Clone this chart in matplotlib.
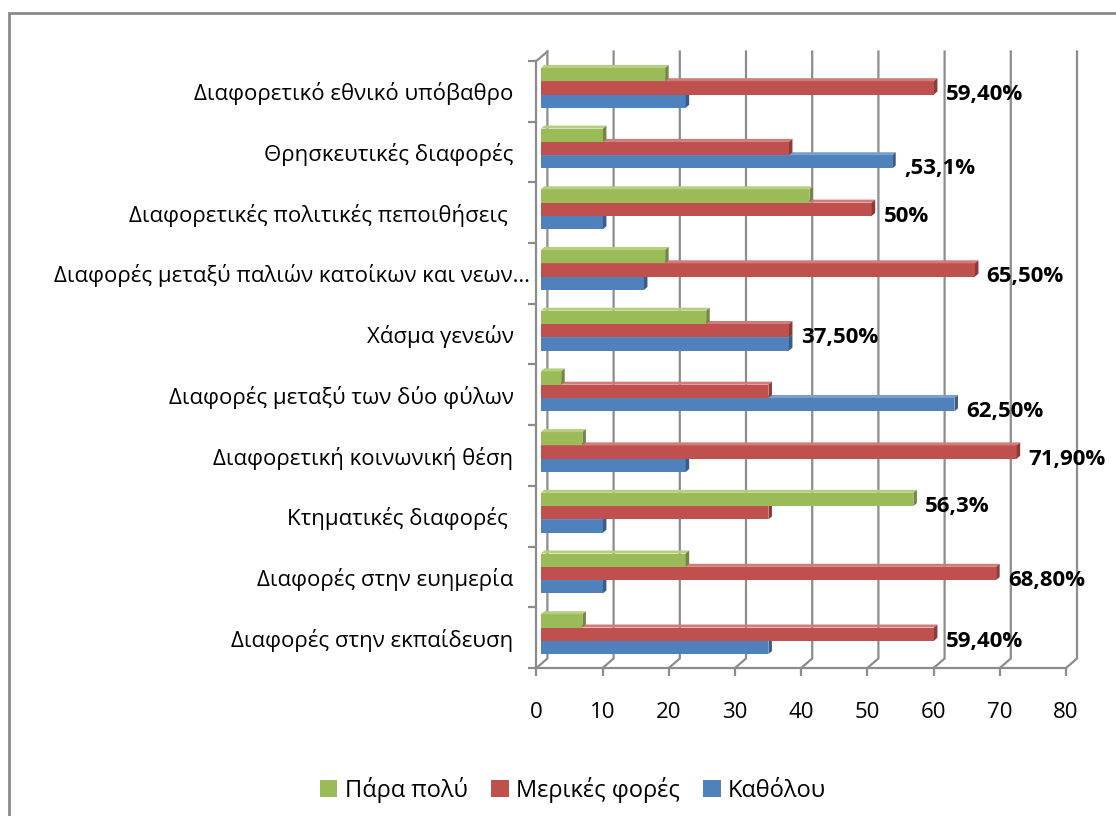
import matplotlib
matplotlib.use('Agg')
import matplotlib.pyplot as plt
from matplotlib.patches import Polygon, Patch, Rectangle
from matplotlib.transforms import ScaledTranslation
import numpy as np

plt.rcParams['font.family'] = ['Open Sans', 'DejaVu Sans']

# Categories, bottom to top (as barh draws them)
categories = [
    'Διαφορές στην εκπαίδευση',
    'Διαφορές στην ευημερία',
    'Κτηματικές διαφορές ',
    'Διαφορετική κοινωνική θέση',
    'Διαφορές μεταξύ των δύο φύλων',
    'Χάσμα γενεών',
    'Διαφορές μεταξύ παλιών κατοίκων και νεων…',
    'Διαφορετικές πολιτικές πεποιθήσεις ',
    'Θρησκευτικές διαφορές',
    'Διαφορετικό εθνικό υπόβαθρο',
]
para_poly = [6.3, 21.9, 56.3, 6.3, 3.1, 25.0, 18.8, 40.6, 9.4, 18.8]
merikes_fores = [59.4, 68.8, 34.4, 71.9, 34.4, 37.5, 65.6, 50.0, 37.5, 59.4]
katholou = [34.4, 9.4, 9.4, 21.9, 62.5, 37.5, 15.6, 9.4, 53.1, 21.9]
series_names = ['Πάρα πολύ', 'Μερικές φορές', 'Καθόλου']

# Data labels as typed in the original chart, and which series they sit on
value_labels = ['59,40%', '68,80%', '56,3%', '71,90%', '62,50%',
                '37,50%', '65,50%', '50%', ',53,1%', '59,40%']
label_series = [1, 1, 0, 1, 2, 1, 1, 1, 2, 1]
xticks = [0, 10, 20, 30, 40, 50, 60, 70, 80]

# colours: front, top face, side face
front_cols = ['#9BBB59', '#C0504D', '#4F81BD']
top_cols = ['#B5CF80', '#D27B78', '#7C9FCE']
side_cols = ['#71893F', '#8E3A38', '#385D8A']
grid_col = '#8C8C8C'


def create_chart():
    W, H = 1116, 816
    fig = plt.figure(figsize=(W / 100, H / 100), dpi=100)

    # outer chart border (runs off the right and bottom edges)
    fig.patches.append(Rectangle((9 / W, -0.05), 1.2, 1 - 13 / H + 0.05,
                                 transform=fig.transFigure, fill=False,
                                 edgecolor='#8A8A8A', linewidth=2.0))

    # front plane of the 3D plot area, in pixels
    x0_px, x1_px, ytop_px, ybot_px = 536.4, 1066.0, 61.0, 668.0
    ax = fig.add_axes([x0_px / W, 1 - ybot_px / H,
                       (x1_px - x0_px) / W, (ybot_px - ytop_px) / H])
    n = len(categories)
    ax.set_xlim(0, 80)
    ax.set_ylim(-0.5, n - 0.5)
    px_x = (x1_px - x0_px) / 80.0
    px_y = (ybot_px - ytop_px) / n

    # back wall offset and bar offsets (pixels -> data units)
    bx, by = 11 / px_x, 9.5 / px_y
    ox, oy = 4.3 / px_x, 3.5 / px_y
    ddx, ddy = 3.5 / px_x, 3.0 / px_y
    bh = 13.3 / px_y

    # wall gridlines and floor diagonals
    for k in xticks:
        ax.plot([k, k + bx, k + bx], [-0.5, -0.5 + by, n - 0.5 + by],
                color=grid_col, lw=1.6, clip_on=False, zorder=1,
                solid_joinstyle='miter')
    ax.plot([0, bx], [n - 0.5, n - 0.5 + by], color=grid_col, lw=1.6,
            clip_on=False, zorder=1)

    y = np.arange(n)
    series = [para_poly, merikes_fores, katholou]
    shifts = [bh, 0.0, -bh]
    # draw blue first so the upper bars cover its top face
    for s in [2, 1, 0]:
        yc = y + shifts[s] + oy
        ax.barh(yc, series[s], height=bh, left=ox, color=front_cols[s],
                edgecolor='none', zorder=3)
        for yi, v in zip(yc, series[s]):
            yt, yb = yi + bh / 2, yi - bh / 2
            xe = v + ox
            ax.add_patch(Polygon([(ox, yt), (xe, yt), (xe + ddx, yt + ddy),
                                  (ox + ddx, yt + ddy)], closed=True,
                                 facecolor=top_cols[s], edgecolor='none',
                                 zorder=3, clip_on=False))
            ax.add_patch(Polygon([(xe, yb), (xe + ddx, yb + ddy),
                                  (xe + ddx, yt + ddy), (xe, yt)], closed=True,
                                 facecolor=side_cols[s], edgecolor='none',
                                 zorder=3, clip_on=False))

    # data labels
    for i, (txt, s) in enumerate(zip(value_labels, label_series)):
        v = series[s][i]
        ax.text(v + 16 / px_x, i + shifts[s] - 3.5 / px_y, txt,
                ha='left', va='center', fontsize=16, fontweight='bold',
                color='black', clip_on=False, zorder=5)

    # axes lines
    for side in ['top', 'right']:
        ax.spines[side].set_visible(False)
    for side in ['left', 'bottom']:
        ax.spines[side].set_color(grid_col)
        ax.spines[side].set_linewidth(1.6)
    ax.set_facecolor('none')

    ax.set_xticks(xticks)
    ax.set_xticklabels([str(t) for t in xticks])
    ax.tick_params(axis='x', length=5.8, width=1.6, color=grid_col,
                   pad=18.5, labelsize=16, labelcolor='black')

    ax.set_yticks(np.arange(-0.5, n, 1.0))
    ax.set_yticklabels([])
    ax.tick_params(axis='y', which='major', length=5.8, width=1.6,
                   color=grid_col)
    ax.set_yticks(y, minor=True)
    ax.set_yticklabels(categories, minor=True)
    ax.tick_params(axis='y', which='minor', length=0, pad=16.5,
                   labelsize=16, labelcolor='black')
    # the truncated label sits a little further right in the original
    lab = ax.get_yticklabels(minor=True)[6]
    lab.set_transform(lab.get_transform() +
                      ScaledTranslation(17 / 100, 0, fig.dpi_scale_trans))

    # legend
    handles = [Patch(facecolor=c, edgecolor='none') for c in front_cols]
    fig.legend(handles, series_names, loc='center',
               bbox_to_anchor=(573 / W, 1 - 790 / H), ncol=3, frameon=False,
               fontsize=17, handlelength=0.75, handleheight=0.75,
               handletextpad=0.3, columnspacing=1.0)

    fig.savefig('out.png', dpi=100)


if __name__ == "__main__":
    create_chart()
